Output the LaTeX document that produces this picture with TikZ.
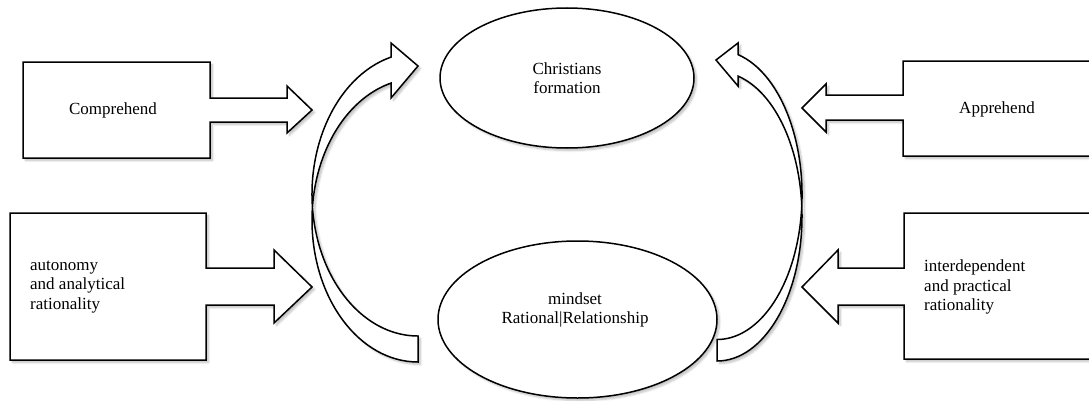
\documentclass[tikz,border=0pt]{standalone}
\usepackage{fontspec}
\setmainfont{Liberation Serif}
\usetikzlibrary{shapes.geometric,shadows.blur}

\tikzset{
  shape line/.style={draw=black, line width=1.5pt, line join=miter, fill=white,
    blur shadow={shadow xshift=2.5pt, shadow yshift=-2.5pt, shadow blur radius=2pt,
      shadow blur steps=6, shadow opacity=25}},
  oval/.style={shape line, ellipse, inner sep=0pt},
  label text/.style={font=\fontsize{17}{19.5}\selectfont, inner sep=0pt},
}

\begin{document}
\begin{tikzpicture}[x=1pt, y=1pt]
\useasboundingbox (0,0) rectangle (1089,400);
\clip (0,0) rectangle (1089,400);

% callout boxes with block arrows, left side
\path[shape line] (23,242) -- (23,338) -- (210,338) -- (210,302) -- (287,302) -- (287,314)
  -- (312,290) -- (287,267) -- (287,278) -- (210,278) -- (210,242) -- cycle;
\path[shape line] (10,40) -- (10,187) -- (206,187) -- (206,132) -- (274,132) -- (274,150)
  -- (312,113) -- (274,77) -- (274,95) -- (206,95) -- (206,40) -- cycle;

% callout boxes with block arrows, right side (running past the edge)
\path[shape line] (1100,244) -- (1100,339) -- (903,339) -- (903,305) -- (826,305) -- (826,316)
  -- (802,292) -- (826,268) -- (826,280) -- (903,280) -- (903,244) -- cycle;
\path[shape line] (1100,41) -- (1100,187) -- (904,187) -- (904,132) -- (838,132) -- (838,150)
  -- (802,113) -- (838,77) -- (838,95) -- (904,95) -- (904,41) -- cycle;

% curved arrow on the left, from the lower oval up to the upper one
\path[shape line] (418,38)
  arc[start angle=270, end angle=104.76, x radius=106, y radius=141.8]
  -- (391,302) -- (418,334) -- (391,357) -- (391,342.9)
  arc[start angle=104.76, end angle=270, x radius=106, y radius=141.8]
  -- cycle;

% curved arrow on the right
\path[shape line] (717,39)
  arc[start angle=-90, end angle=75.7, x radius=85, y radius=144.7]
  -- (738,314) -- (716,340) -- (738,357) -- (738,345.4)
  arc[start angle=75.7, end angle=-90, x radius=85, y radius=144.7]
  -- cycle;

% the two ovals
\node[oval, minimum width=254pt, minimum height=140pt] (formation) at (567,322) {};
\node[oval, minimum width=279pt, minimum height=157pt] (mindset) at (577.5,80.5) {};

% texts
\node[label text, align=center] (formtext) at (567,322) {Christians\\formation};
\node[label text, align=center] (mindtext) at (575,90) {mindset\\Rational|Relationship};
\node[label text] (comprehend) at (113,290) {Comprehend};
\node[label text] (apprehend) at (997,291) {Apprehend};
\node[label text, align=left, anchor=west] (autonomy) at (30,113)
  {autonomy\\and analytical\\rationality};
\node[label text, align=left, anchor=west] (interdep) at (924,113)
  {interdependent\\and practical\\rationality};
\end{tikzpicture}
\end{document}
